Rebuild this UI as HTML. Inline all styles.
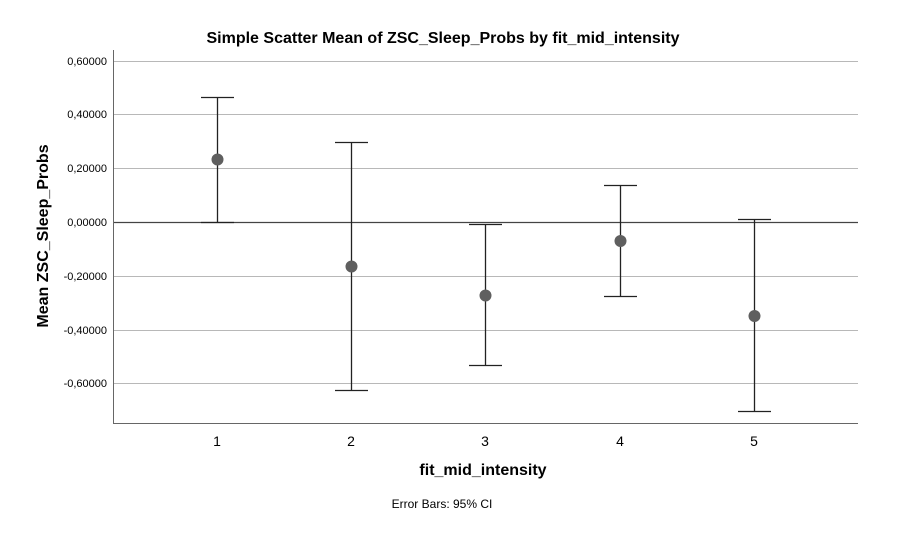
<!DOCTYPE html>
<html><head><meta charset="utf-8"><style>
html,body{margin:0;padding:0;background:#fff;}
svg{display:block;font-family:"Liberation Sans",Arial,sans-serif;}
</style></head><body>
<svg width="898" height="541" viewBox="0 0 898 541" xmlns="http://www.w3.org/2000/svg">
<rect width="898" height="541" fill="#fff"/>
<text x="443" y="43" font-size="16" font-weight="bold" text-anchor="middle" fill="#000">Simple Scatter Mean of ZSC_Sleep_Probs by fit_mid_intensity</text>
<g stroke="#b8b8b8" stroke-width="1">
<line x1="113" x2="858" y1="61.5" y2="61.5"/>
<line x1="113" x2="858" y1="114.5" y2="114.5"/>
<line x1="113" x2="858" y1="168.5" y2="168.5"/>
<line x1="113" x2="858" y1="276.5" y2="276.5"/>
<line x1="113" x2="858" y1="330.5" y2="330.5"/>
<line x1="113" x2="858" y1="383.5" y2="383.5"/>
</g>
<line x1="113" x2="858" y1="222.5" y2="222.5" stroke="#444" stroke-width="1.3"/>
<line x1="113.5" x2="113.5" y1="50" y2="423" stroke="#666" stroke-width="1"/>
<line x1="113" x2="858" y1="423.5" y2="423.5" stroke="#666" stroke-width="1"/>
<g font-size="11" text-anchor="end" fill="#000">
<text x="107" y="65">0,60000</text>
<text x="107" y="118">0,40000</text>
<text x="107" y="172">0,20000</text>
<text x="107" y="226">0,00000</text>
<text x="107" y="280">-0,20000</text>
<text x="107" y="334">-0,40000</text>
<text x="107" y="387">-0,60000</text>
</g>
<g font-size="14" text-anchor="middle" fill="#000">
<text x="217" y="446">1</text>
<text x="351" y="446">2</text>
<text x="485" y="446">3</text>
<text x="620" y="446">4</text>
<text x="754" y="446">5</text>
</g>
<text x="483" y="475" font-size="16" font-weight="bold" text-anchor="middle">fit_mid_intensity</text>
<text transform="translate(48,236) rotate(-90)" font-size="16" font-weight="bold" text-anchor="middle">Mean ZSC_Sleep_Probs</text>
<text x="442" y="508" font-size="12" text-anchor="middle">Error Bars: 95% CI</text>
<g stroke="#222" stroke-width="1.3">
<line x1="217.5" x2="217.5" y1="97" y2="222"/><line x1="201" x2="234" y1="97.5" y2="97.5"/><line x1="201" x2="234" y1="222.5" y2="222.5"/>
<line x1="351.5" x2="351.5" y1="142" y2="391"/><line x1="335" x2="368" y1="142.5" y2="142.5"/><line x1="335" x2="368" y1="390.5" y2="390.5"/>
<line x1="485.5" x2="485.5" y1="224" y2="366"/><line x1="469" x2="502" y1="224.5" y2="224.5"/><line x1="469" x2="502" y1="365.5" y2="365.5"/>
<line x1="620.5" x2="620.5" y1="185" y2="296"/><line x1="604" x2="637" y1="185.5" y2="185.5"/><line x1="604" x2="637" y1="296.5" y2="296.5"/>
<line x1="754.5" x2="754.5" y1="220" y2="411"/><line x1="738" x2="771" y1="219.5" y2="219.5"/><line x1="738" x2="771" y1="411.5" y2="411.5"/>
</g>
<g fill="#5f5f5f">
<circle cx="217.5" cy="159.5" r="6"/>
<circle cx="351.5" cy="266.5" r="6"/>
<circle cx="485.5" cy="295.5" r="6"/>
<circle cx="620.5" cy="241" r="6"/>
<circle cx="754.5" cy="316" r="6"/>
</g>
</svg>
</body></html>
